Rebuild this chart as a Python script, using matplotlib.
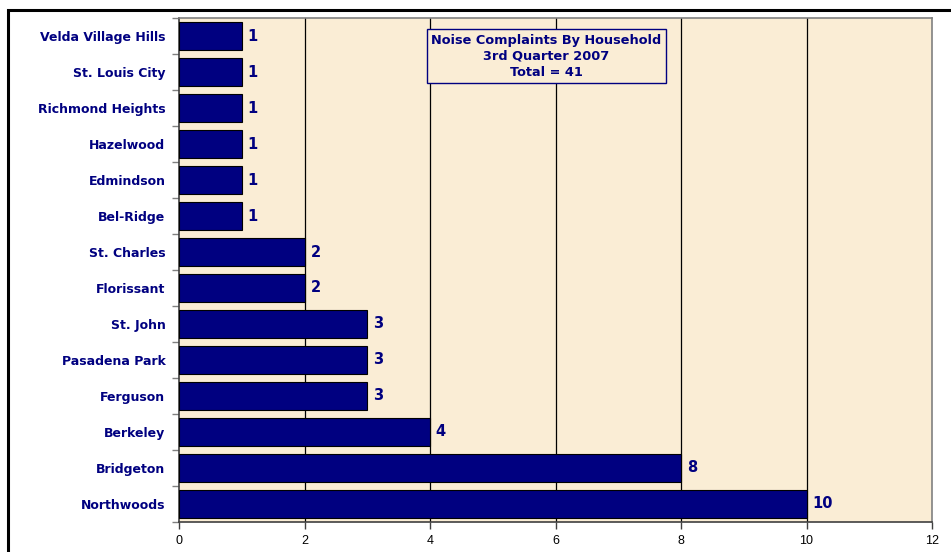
import matplotlib
matplotlib.use("Agg")
import matplotlib.pyplot as plt
from matplotlib.patches import Rectangle
from matplotlib.ticker import FixedLocator

categories = ["Velda Village Hills", "St. Louis City", "Richmond Heights", "Hazelwood",
              "Edmindson", "Bel-Ridge", "St. Charles", "Florissant", "St. John",
              "Pasadena Park", "Ferguson", "Berkeley", "Bridgeton", "Northwoods"]
values = [1, 1, 1, 1, 1, 1, 2, 2, 3, 3, 3, 4, 8, 10]
x_ticks = [0, 2, 4, 6, 8, 10, 12]
title_lines = ["Noise Complaints By Household", "3rd Quarter 2007", "Total = 41"]

navy = "#000080"
bg = "#FAEDD5"

W, H = 951, 552
fig = plt.figure(figsize=(W / 100, H / 100), dpi=100)
fig.patch.set_facecolor("white")

# outer frame
fig.add_artist(Rectangle((7.5 / W, -0.2), 1.2, 1 + 0.2 - 9.5 / H, transform=fig.transFigure,
                         fill=False, edgecolor="black", linewidth=2.2))

left, right, top, bottom = 179.3, 932.0, 18.3, 521.7
ax = fig.add_axes([left / W, 1 - bottom / H, (right - left) / W, (bottom - top) / H])
ax.set_facecolor(bg)

ypos = list(range(len(categories)))
ax.barh(ypos, values, height=0.78, color=navy, edgecolor="black", linewidth=0.8, zorder=3)
ax.set_ylim(len(categories) - 0.5, -0.5)
ax.set_xlim(0, 12)

for y, v in zip(ypos, values):
    ax.text(v + 0.09, y, str(v), va="center", ha="left", color=navy,
            fontsize=10.5, fontweight="bold", zorder=4)

ax.set_yticks(ypos)
ax.set_yticklabels(categories, fontsize=9, fontweight="bold", color=navy)
ax.tick_params(axis="y", which="major", length=0, pad=10)
ax.yaxis.set_minor_locator(FixedLocator([i - 0.5 for i in range(len(categories) + 1)]))
ax.tick_params(axis="y", which="minor", length=5, color="#808080", width=1)

ax.set_xticks(x_ticks)
ax.set_xticklabels([str(t) for t in x_ticks], fontsize=9,
                   family=["Liberation Sans Narrow", "Liberation Sans", "DejaVu Sans"])
ax.tick_params(axis="x", length=5, color="#404040", width=1, pad=4.5)

for t in x_ticks[1:-1]:
    ax.axvline(t, color="black", linewidth=0.9, zorder=1)

for s in ax.spines.values():
    s.set_color("#808080")
    s.set_linewidth(1.2)
ax.spines["left"].set_color("#404040")
ax.spines["bottom"].set_color("#404040")

ax.text(0.488, 0.925, "\n".join(title_lines), transform=ax.transAxes, ha="center", va="center",
        fontsize=9.3, fontweight="bold", color=navy, linespacing=1.3, zorder=5,
        bbox=dict(boxstyle="square,pad=0.35", facecolor=bg, edgecolor=navy, linewidth=1.0))

fig.savefig("out.png", dpi=100)
